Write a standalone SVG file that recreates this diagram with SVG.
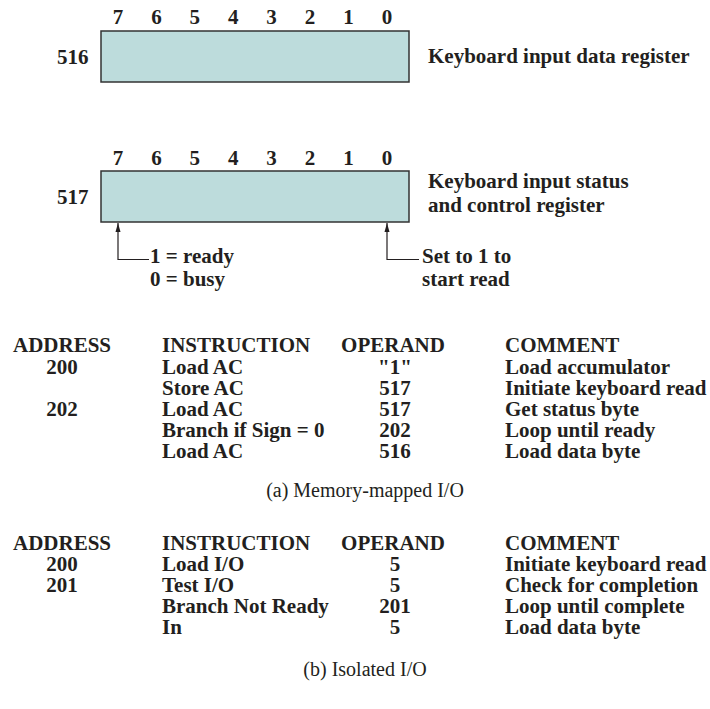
<svg xmlns="http://www.w3.org/2000/svg" width="710" height="709" viewBox="0 0 710 709">
<style>
text{font-family:"Liberation Serif","Times New Roman",serif;fill:#231f20}
.b{font-weight:bold;font-size:21px}
.c{font-size:20px}
.m{text-anchor:middle}
.reg{fill:#bddcdc;stroke:#333;stroke-width:1.5}
.ln{fill:none;stroke:#231f20;stroke-width:1.2}
</style>
<defs>
<marker id="ah" viewBox="0 0 10 10" refX="10" refY="5" markerWidth="9" markerHeight="9" markerUnits="userSpaceOnUse" orient="auto">
<path d="M0,2.2 L10,5 L0,7.8 Z" fill="#231f20"/>
</marker>
</defs>
<rect width="710" height="709" fill="#fff"/>

<g id="reg516">
<rect class="reg" x="101" y="31" width="308" height="51"/>
<g class="b m">
<text x="118" y="24">7</text><text x="156.4" y="24">6</text><text x="194.8" y="24">5</text><text x="233.2" y="24">4</text>
<text x="271.6" y="24">3</text><text x="310" y="24">2</text><text x="348.4" y="24">1</text><text x="387" y="24">0</text>
</g>
<text class="b" x="57" y="64">516</text>
<text class="b" x="428" y="63">Keyboard input data register</text>
</g>

<g id="reg517">
<rect class="reg" x="101" y="171" width="308" height="51"/>
<g class="b m">
<text x="118" y="165">7</text><text x="156.4" y="165">6</text><text x="194.8" y="165">5</text><text x="233.2" y="165">4</text>
<text x="271.6" y="165">3</text><text x="310" y="165">2</text><text x="348.4" y="165">1</text><text x="387" y="165">0</text>
</g>
<text class="b" x="57" y="204">517</text>
<text class="b" x="428" y="188">Keyboard input status</text>
<text class="b" x="428" y="212">and control register</text>
</g>

<g id="note-ready">
<text class="b" x="150" y="263">1 = ready</text>
<text class="b" x="150" y="286">0 = busy</text>
</g>
<g id="note-start">
<text class="b" x="422" y="263">Set to 1 to</text>
<text class="b" x="422" y="286">start read</text>
</g>

<g id="connectors">
<path class="ln" d="M149,259.5 H118 V223" marker-end="url(#ah)"/>
<path class="ln" d="M419,259.5 H387 V223" marker-end="url(#ah)"/>
</g>

<g id="table-a" class="b">
<text x="13" y="352">ADDRESS</text><text x="162" y="352">INSTRUCTION</text><text x="393" y="352" class="m">OPERAND</text><text x="505" y="352">COMMENT</text>
<text x="62" y="373.5" class="m">200</text><text x="162" y="373.5">Load AC</text><text x="395" y="373.5" class="m">"1"</text><text x="505" y="373.5">Load accumulator</text>
<text x="162" y="394.5">Store AC</text><text x="395" y="394.5" class="m">517</text><text x="505" y="394.5">Initiate keyboard read</text>
<text x="62" y="415.5" class="m">202</text><text x="162" y="415.5">Load AC</text><text x="395" y="415.5" class="m">517</text><text x="505" y="415.5">Get status byte</text>
<text x="162" y="436.5">Branch if Sign = 0</text><text x="395" y="436.5" class="m">202</text><text x="505" y="436.5">Loop until ready</text>
<text x="162" y="457.5">Load AC</text><text x="395" y="457.5" class="m">516</text><text x="505" y="457.5">Load data byte</text>
</g>
<text id="caption-a" class="c m" x="365" y="497">(a) Memory-mapped I/O</text>

<g id="table-b" class="b">
<text x="13" y="550">ADDRESS</text><text x="162" y="550">INSTRUCTION</text><text x="393" y="550" class="m">OPERAND</text><text x="505" y="550">COMMENT</text>
<text x="62" y="571" class="m">200</text><text x="162" y="571">Load I/O</text><text x="395" y="571" class="m">5</text><text x="505" y="571">Initiate keyboard read</text>
<text x="62" y="592" class="m">201</text><text x="162" y="592">Test I/O</text><text x="395" y="592" class="m">5</text><text x="505" y="592">Check for completion</text>
<text x="162" y="613">Branch Not Ready</text><text x="395" y="613" class="m">201</text><text x="505" y="613">Loop until complete</text>
<text x="162" y="634">In</text><text x="395" y="634" class="m">5</text><text x="505" y="634">Load data byte</text>
</g>
<text id="caption-b" class="c m" x="365" y="676">(b) Isolated I/O</text>
</svg>
